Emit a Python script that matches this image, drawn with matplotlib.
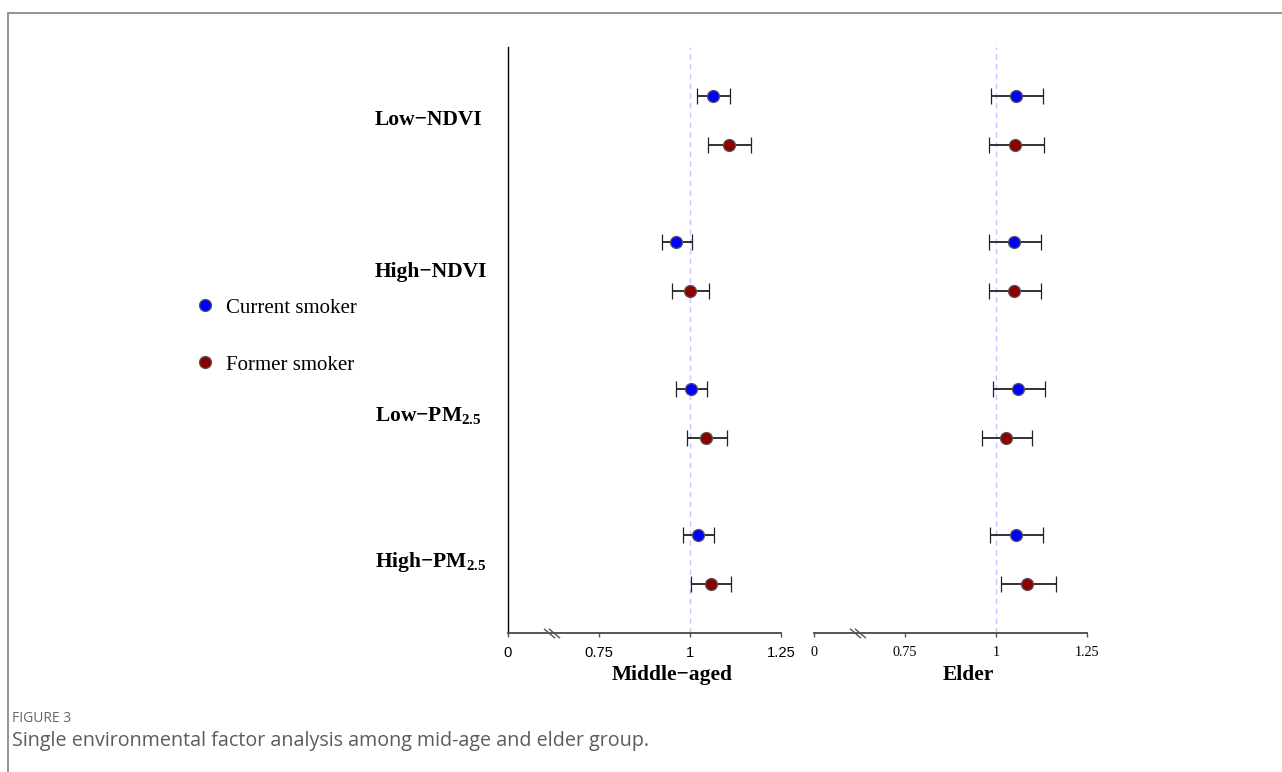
import matplotlib
matplotlib.use("Agg")
import matplotlib.pyplot as plt
from matplotlib.lines import Line2D
from matplotlib.patches import Rectangle
from matplotlib.transforms import blended_transform_factory
import numpy as np

# ---------------- data ----------------
factors = ["Low\u2212NDVI", "High\u2212NDVI", "Low\u2212PM$_{\\mathbf{2.5}}$", "High\u2212PM$_{\\mathbf{2.5}}$"]
groups = ["Current smoker", "Former smoker"]
panel_titles = ["Middle\u2212aged", "Elder"]

# Middle-aged: point estimate, lower, upper (order: factor x [current, former])
mid_current = [1.064, 0.962, 1.003, 1.022]
mid_current_lo = [1.019, 0.922, 0.962, 0.980]
mid_current_hi = [1.110, 1.005, 1.047, 1.067]
mid_former = [1.106, 1.001, 1.045, 1.057]
mid_former_lo = [1.050, 0.951, 0.993, 1.003]
mid_former_hi = [1.167, 1.053, 1.102, 1.113]

# Elder
eld_current = [1.055, 1.049, 1.060, 1.055]
eld_current_lo = [0.985, 0.981, 0.992, 0.984]
eld_current_hi = [1.129, 1.124, 1.135, 1.129]
eld_former = [1.053, 1.049, 1.027, 1.085]
eld_former_lo = [0.981, 0.981, 0.962, 1.014]
eld_former_hi = [1.131, 1.124, 1.099, 1.165]

tick_values = [0.5, 0.75, 1.0, 1.25]      # 0.5 is the broken-axis stand-in for 0
tick_labels = ["0", "0.75", "1", "1.25"]

colors = ["#0000ff", "#8b0000"]

# ---------------- layout ----------------
W, H = 1282, 772
fig = plt.figure(figsize=(W / 100, H / 100), dpi=100)
fig.patch.set_facecolor("white")

def fx(px):
    return px / W

def fy(py):
    return 1 - py / H

ax_top, ax_bot = 47, 633
ax1 = fig.add_axes([fx(508), fy(ax_bot), fx(781 - 508), (ax_bot - ax_top) / H])
ax2 = fig.add_axes([fx(814), fy(ax_bot), fx(1087 - 814), (ax_bot - ax_top) / H])

# row positions: two rows per factor, one blank row between factors
row_pos_current = [3 * i for i in range(len(factors))]
row_pos_former = [3 * i + 1 for i in range(len(factors))]

panels = [
    (ax1, (mid_current, mid_current_lo, mid_current_hi), (mid_former, mid_former_lo, mid_former_hi)),
    (ax2, (eld_current, eld_current_lo, eld_current_hi), (eld_former, eld_former_lo, eld_former_hi)),
]

for k, (ax, cur, frm) in enumerate(panels):
    ax.axvline(1.0, color="#c4c4ff", lw=1.0, ls=(0, (4, 3)), zorder=0)
    for (est, lo, hi), ypos, col in ((cur, row_pos_current, colors[0]), (frm, row_pos_former, colors[1])):
        est = np.array(est); lo = np.array(lo); hi = np.array(hi)
        ax.errorbar(est, ypos, xerr=[est - lo, hi - est], fmt="o", color=col,
                    ecolor="#222222", elinewidth=1.3, capsize=5.5, capthick=1.4,
                    markersize=8.6, markeredgecolor="#555555", markeredgewidth=0.9, zorder=3)
    ax.set_xlim(0.5, 1.25)
    ax.set_ylim(11, -1)
    ax.set_yticks([])
    ax.set_xticks(tick_values)
    ax.set_xticklabels(tick_labels)
    for s in ["top", "right"]:
        ax.spines[s].set_visible(False)
    ax.spines["bottom"].set_color("#555555")
    ax.spines["bottom"].set_linewidth(1.4)
    ax.tick_params(axis="x", direction="out", length=3, width=1.0, color="#555555", pad=6.5)
    if k == 0:
        ax.spines["left"].set_color("black")
        ax.spines["left"].set_linewidth(1.0)
        for t in ax.get_xticklabels():
            t.set_fontfamily("Liberation Sans")
            t.set_fontsize(10.6)
    else:
        ax.spines["left"].set_visible(False)
        for t in ax.get_xticklabels():
            t.set_fontfamily("Liberation Serif")
            t.set_fontsize(10.2)
    ax.set_facecolor("none")
    # axis break marks
    bt = blended_transform_factory(ax.transData, ax.transAxes)
    ax.plot([0.612, 0.626], [0, 0], transform=bt, ls="none", clip_on=False,
            marker=[(-1, 0.85), (1, -0.85)], markersize=8, markeredgewidth=1.0,
            color="#555555", zorder=5)

# mathtext for subscripts in bold serif
plt.rcParams["mathtext.fontset"] = "custom"
plt.rcParams["mathtext.rm"] = "Liberation Serif:bold"
plt.rcParams["mathtext.bf"] = "Liberation Serif:bold"
plt.rcParams["mathtext.it"] = "Liberation Serif:bold"

# row labels
label_offsets = [-0.01, 0.11, 0.04, 0.04]
lt = blended_transform_factory(fig.transFigure, ax1.transData)
for i, name in enumerate(factors):
    ax1.text(fx(375), (row_pos_current[i] + row_pos_former[i]) / 2 + label_offsets[i], name,
             transform=lt, ha="left", va="center", family="Liberation Serif",
             fontweight="bold", fontsize=15.5, clip_on=False)

# panel titles
fig.text(fx(672), fy(675), panel_titles[0], ha="center", va="center",
         family="Liberation Serif", fontweight="bold", fontsize=15.5)
fig.text(fx(968), fy(675), panel_titles[1], ha="center", va="center",
         family="Liberation Serif", fontweight="bold", fontsize=15.5)

# legend
handles = [Line2D([], [], ls="none", marker="o", color=c, markersize=8.6,
                  markeredgecolor="#555555", markeredgewidth=0.9) for c in colors]
fig.legend(handles, groups, loc="upper left", bbox_to_anchor=(fx(194.5), fy(298)),
           frameon=False, handlelength=1.0, handletextpad=0.5, labelspacing=1.8,
           borderpad=0, borderaxespad=0,
           prop={"family": "Liberation Serif", "size": 15})

# figure frame
fig.patches.append(Rectangle((fx(8), -1), 2, 1 + fy(13), transform=fig.transFigure,
                             fill=False, edgecolor="#8a8a8a", lw=1.3))

# caption
fig.text(fx(12), fy(718), "FIGURE 3", ha="left", va="center", family="Open Sans",
         fontsize=10, color="#666666")
fig.text(fx(12), fy(741), "Single environmental factor analysis among mid-age and elder group.",
         ha="left", va="center", family="Open Sans", fontsize=14.2, color="#5c5c5c")

fig.savefig("out.png", dpi=100, facecolor="white")
